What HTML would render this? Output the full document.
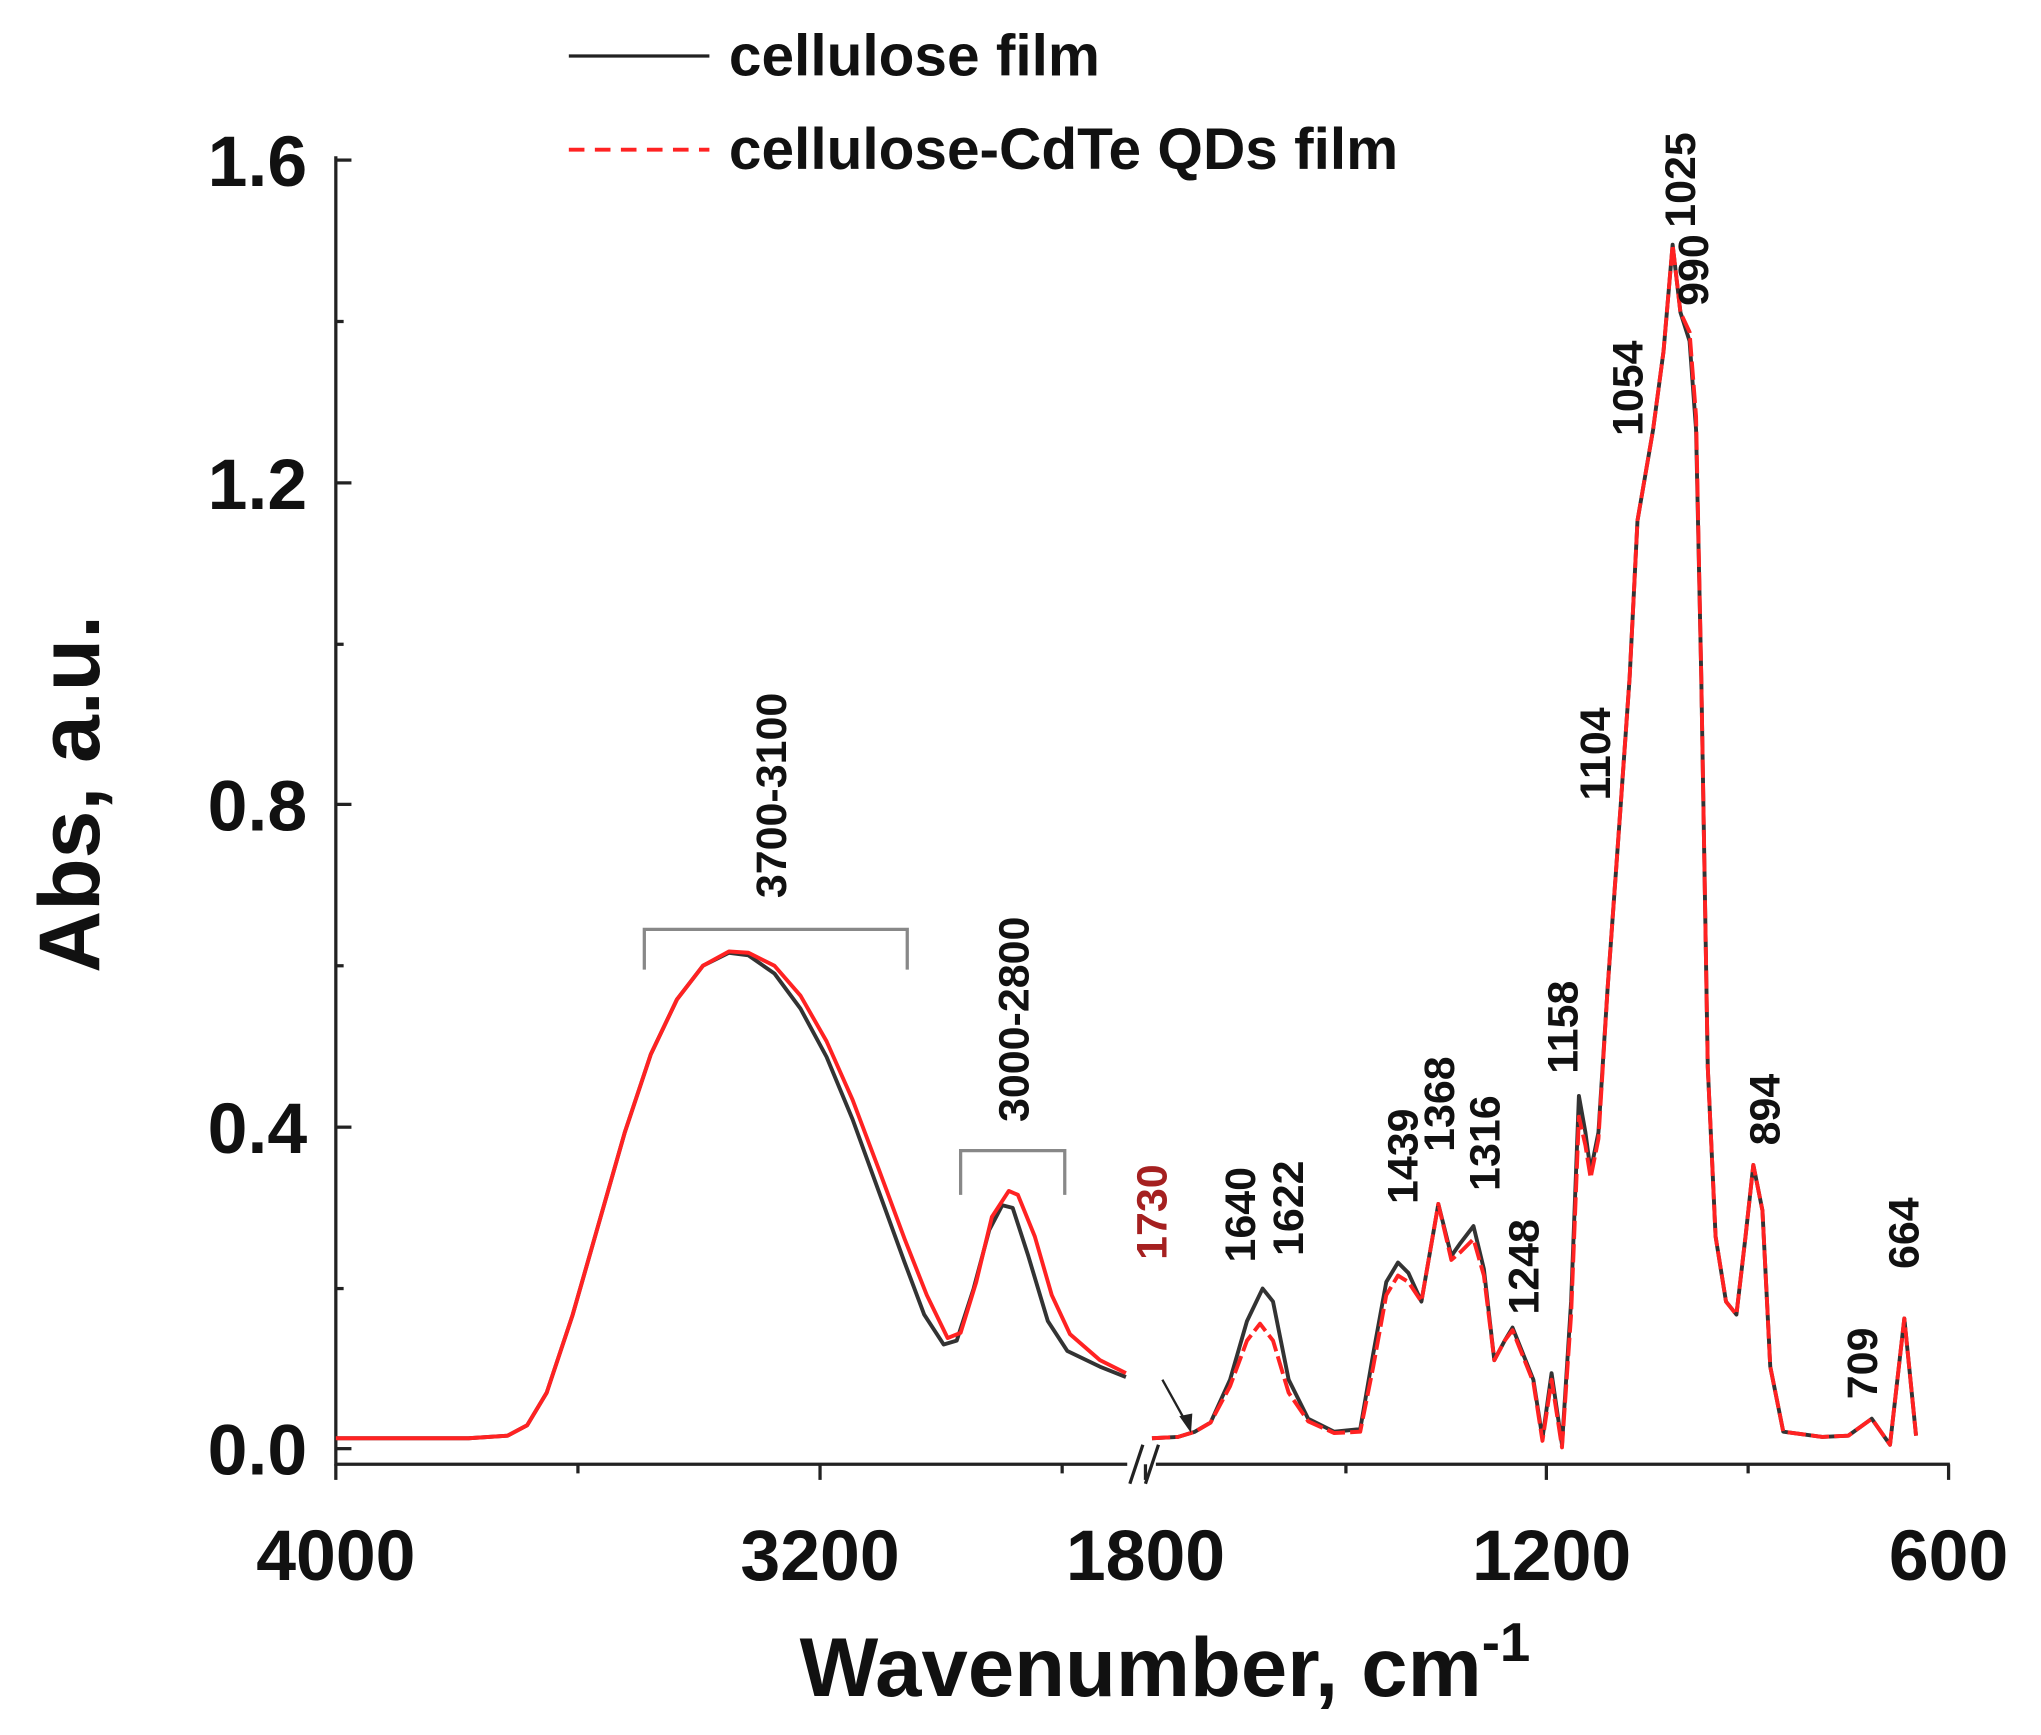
<!DOCTYPE html>
<html><head><meta charset="utf-8"><style>
html,body{margin:0;padding:0;background:#fff;}
svg{display:block;}
text{font-family:"Liberation Sans",Arial,sans-serif;font-weight:bold;fill:#111;}
</style></head><body>
<svg width="2041" height="1735" viewBox="0 0 1568 1333" preserveAspectRatio="none" xmlns="http://www.w3.org/2000/svg">
<g stroke="#222" stroke-width="2.5" fill="none">
<line x1="258" y1="120" x2="258" y2="1126"/>
<line x1="257" y1="1125" x2="866" y2="1125"/>
<line x1="888" y1="1125" x2="1498" y2="1125"/>
<line x1="868" y1="1140" x2="878" y2="1110"/>
<line x1="880" y1="1140" x2="890" y2="1110"/>
<line x1="258" y1="123" x2="270" y2="123"/>
<line x1="258" y1="371" x2="270" y2="371"/>
<line x1="258" y1="618" x2="270" y2="618"/>
<line x1="258" y1="866" x2="270" y2="866"/>
<line x1="258" y1="1113" x2="270" y2="1113"/>
<line x1="258" y1="247" x2="264" y2="247"/>
<line x1="258" y1="495" x2="264" y2="495"/>
<line x1="258" y1="742" x2="264" y2="742"/>
<line x1="258" y1="990" x2="264" y2="990"/>
<line x1="258" y1="1125" x2="258" y2="1137"/>
<line x1="444" y1="1125" x2="444" y2="1132"/>
<line x1="630" y1="1125" x2="630" y2="1137"/>
<line x1="816" y1="1125" x2="816" y2="1132"/>
<line x1="880" y1="1125" x2="880" y2="1137"/>
<line x1="1034" y1="1125" x2="1034" y2="1132"/>
<line x1="1188" y1="1125" x2="1188" y2="1137"/>
<line x1="1343" y1="1125" x2="1343" y2="1132"/>
<line x1="1497" y1="1125" x2="1497" y2="1137"/>
</g>
<g font-size="55" text-anchor="end">
<text x="236" y="143">1.6</text>
<text x="236" y="391">1.2</text>
<text x="236" y="638">0.8</text>
<text x="236" y="886">0.4</text>
<text x="236" y="1133">0.0</text>
</g>
<g font-size="55" text-anchor="middle">
<text x="258" y="1214">4000</text>
<text x="630" y="1214">3200</text>
<text x="880" y="1214">1800</text>
<text x="1192" y="1214">1200</text>
<text x="1497" y="1214">600</text>
</g>
<text x="895" y="1303" font-size="64" text-anchor="middle">Wavenumber, cm<tspan font-size="42" dy="-27">-1</tspan></text>
<text transform="translate(76,610) rotate(-90)" font-size="66" text-anchor="middle">Abs, a.u.</text>
<line x1="437" y1="43" x2="545" y2="43" stroke="#222" stroke-width="2.5"/>
<text x="560" y="58" font-size="45">cellulose film</text>
<line x1="437" y1="115" x2="545" y2="115" stroke="#f22" stroke-width="3" stroke-dasharray="12,8"/>
<text x="560" y="130" font-size="45">cellulose-CdTe QDs film</text>
<g stroke="#888" stroke-width="2.5" fill="none">
<polyline points="495,745 495,714 697,714 697,745"/>
<polyline points="738,918 738,884 818,884 818,918"/>
</g>
<g fill="none" stroke-width="3" stroke-linejoin="round">
<polyline stroke="#333" points="258,1105 360,1105 390,1103 405,1095 420,1070 440,1010 460,940 480,870 500,810 520,768 540,742 560,732 575,734 595,748 615,775 635,812 655,860 675,915 695,970 710,1010 725,1033 735,1030 748,990 760,945 770,926 778,928 790,965 805,1015 820,1038 845,1050 865,1058"/>
<polyline stroke="#333" points="885,1105 905,1104 918,1100 930,1093 945,1060 958,1015 970,990 978,1000 990,1060 1005,1090 1025,1100 1045,1098 1055,1040 1065,985 1074,970 1082,978 1092,1000 1105,925 1115,965 1122,955 1132,942 1140,975 1148,1045 1156,1030 1162,1020 1170,1040 1178,1060 1185,1105 1192,1055 1200,1110 1207,1000 1213,842 1218,870 1222,900 1228,870 1235,760 1245,620 1252,520 1258,400 1270,330 1278,270 1285,188 1291,240 1298,262 1303,330 1307,520 1312,820 1318,950 1326,1000 1334,1010 1341,950 1347,895 1354,930 1360,1050 1370,1100 1400,1104 1420,1103 1438,1090 1452,1110 1463,1013 1472,1103"/>
<polyline stroke="#f22" points="258,1105 360,1105 390,1103 405,1095 420,1070 440,1010 460,940 480,870 500,810 520,768 540,742 560,731 575,732 595,742 615,765 635,800 655,845 675,898 695,952 712,995 728,1028 738,1024 750,985 762,935 775,915 782,918 795,950 808,995 822,1025 845,1045 865,1055"/>
<polyline stroke="#f22" stroke-dasharray="14,4" points="885,1105 905,1104 918,1100 930,1093 945,1065 958,1030 968,1017 978,1030 990,1070 1005,1092 1025,1101 1045,1100 1055,1050 1065,995 1074,980 1082,985 1092,1000 1105,925 1115,968 1122,962 1132,952 1140,980 1148,1045 1156,1030 1162,1022 1170,1042 1178,1062 1185,1107 1192,1060 1200,1112 1207,1010 1213,858 1218,880 1222,905 1228,875 1235,760 1245,620 1252,520 1258,400 1270,330 1278,270 1285,188 1291,240 1298,255 1303,320 1307,520 1312,820 1318,950 1326,1000 1334,1010 1341,950 1347,895 1354,930 1360,1050 1370,1100 1400,1104 1420,1103 1438,1090 1452,1110 1463,1013 1472,1103"/>
</g>
<line x1="893" y1="1060" x2="913" y2="1096" stroke="#222" stroke-width="1.8"/>
<polygon points="915,1101 906,1088 916,1086" fill="#222"/>
<g font-size="33">
<text transform="translate(604,690) rotate(-90)">3700-3100</text>
<text transform="translate(790,862) rotate(-90)">3000-2800</text>
<text transform="translate(896,968) rotate(-90)" style="fill:#a52020">1730</text>
<text transform="translate(964,970) rotate(-90)">1640</text>
<text transform="translate(1001,965) rotate(-90)">1622</text>
<text transform="translate(1089,925) rotate(-90)">1439</text>
<text transform="translate(1117,885) rotate(-90)">1368</text>
<text transform="translate(1152,915) rotate(-90)">1316</text>
<text transform="translate(1182,1010) rotate(-90)">1248</text>
<text transform="translate(1212,825) rotate(-90)">1158</text>
<text transform="translate(1237,615) rotate(-90)">1104</text>
<text transform="translate(1262,335) rotate(-90)">1054</text>
<text transform="translate(1302,175) rotate(-90)">1025</text>
<text transform="translate(1312,235) rotate(-90)">990</text>
<text transform="translate(1367,880) rotate(-90)">894</text>
<text transform="translate(1442,1075) rotate(-90)">709</text>
<text transform="translate(1474,975) rotate(-90)">664</text>
</g>
</svg>
</body></html>
